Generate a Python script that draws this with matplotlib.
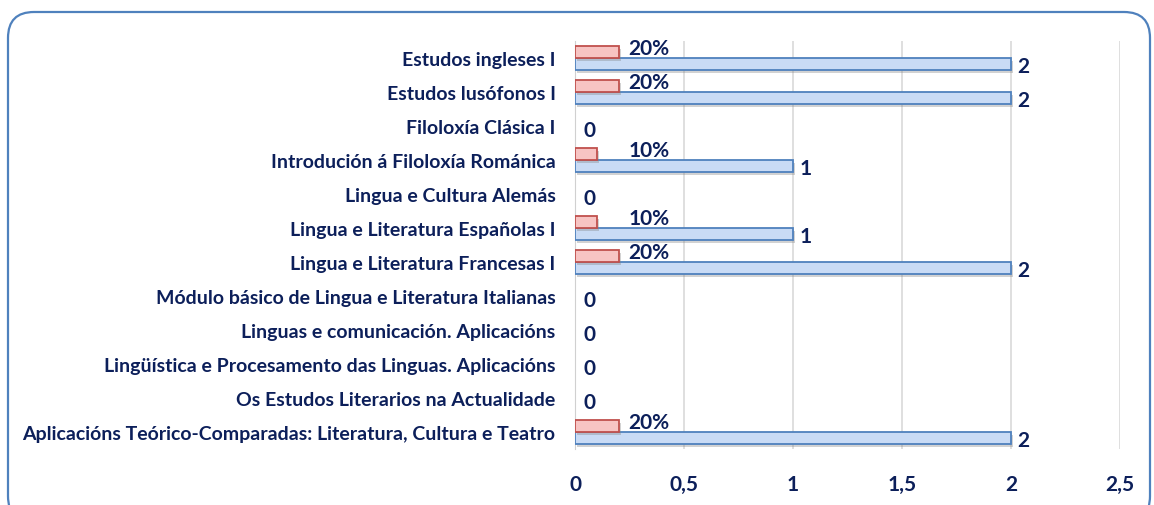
import matplotlib
matplotlib.use("Agg")
import matplotlib.pyplot as plt
import matplotlib.patheffects as pe
from matplotlib.patches import FancyBboxPatch
import numpy as np

# data (top to bottom as in the chart)
cursos = [
    "Estudos ingleses I",
    "Estudos lusófonos I",
    "Filoloxía Clásica I",
    "Introdución á Filoloxía Románica",
    "Lingua e Cultura Alemás",
    "Lingua e Literatura Españolas I",
    "Lingua e Literatura Francesas I",
    "Módulo básico de Lingua e Literatura Italianas",
    "Linguas e comunicación. Aplicacións",
    "Lingüística e Procesamento das Linguas. Aplicacións",
    "Os Estudos Literarios na Actualidade",
    "Aplicacións Teórico-Comparadas: Literatura, Cultura e Teatro",
]
numero = [2, 2, 0, 1, 0, 1, 2, 0, 0, 0, 0, 2]
porcentaxe = [0.2, 0.2, 0, 0.1, 0, 0.1, 0.2, 0, 0, 0, 0, 0.2]
ticks = [0, 0.5, 1, 1.5, 2, 2.5]
tick_labels = ["0", "0,5", "1", "1,5", "2", "2,5"]

navy = "#0c1f5a"
plt.rcParams["font.family"] = ["Lato", "DejaVu Sans"]

W, H = 1154, 506
fig = plt.figure(figsize=(W / 100, H / 100), dpi=100)

# rounded frame round the whole chart
bg = fig.add_axes([0, 0, 1, 1])
bg.set_xlim(0, W)
bg.set_ylim(H, 0)
bg.axis("off")
bg.add_patch(FancyBboxPatch((8, 13), 1142, 510, boxstyle="round,pad=0,rounding_size=26",
                            fc="white", ec="#4f81bd", lw=1.6))

ax = fig.add_axes([575 / W, 1 - 450 / H, (1120 - 575) / W, (450 - 42) / H])
ax.patch.set_alpha(0)

y = np.arange(len(cursos))
h = 0.36
shadow = [pe.SimplePatchShadow(offset=(1.5, -2), alpha=0.35, shadow_rgbFace="#808080"), pe.Normal()]

b1 = ax.barh(y + h / 2, numero, height=h, color="#c9dbf5", edgecolor="#4f81bd", lw=1.3, zorder=3)
b2 = ax.barh(y - h / 2, porcentaxe, height=h, color="#f7c4c3", edgecolor="#c0504d", lw=1.3, zorder=3)
for b in list(b1) + list(b2):
    if b.get_width() > 0:
        b.set_path_effects(shadow)
    else:
        b.set_visible(False)

lab = dict(fontsize=15, fontweight="bold", color=navy, zorder=5)
for i, (n, p) in enumerate(zip(numero, porcentaxe)):
    if n > 0:
        ax.text(n + 0.03, y[i] + h / 2 + 0.05, str(n), ha="left", va="center", **lab)
        ax.text(0.34, y[i] - h / 2 - 0.1, f"{int(round(p * 100))}%", ha="center", va="center", **lab)
    else:
        ax.text(0.04, y[i] + h / 2 - 0.05, "0", ha="left", va="center", **lab)

ax.set_ylim(len(cursos) - 0.5, -0.5)
ax.set_xlim(0, 2.5)
ax.set_xticks(ticks)
ax.set_xticklabels(tick_labels, fontsize=15, fontweight="bold", color=navy)
ax.set_yticks(y)
ax.set_yticklabels(cursos, fontsize=14, fontweight="bold", color=navy)
ax.tick_params(length=0)
ax.tick_params(axis="x", pad=18)
ax.tick_params(axis="y", pad=14)
ax.grid(axis="x", color="#d9d9d9", lw=1.2, zorder=0)
for s in ["top", "right", "bottom"]:
    ax.spines[s].set_visible(False)
ax.spines["left"].set_color("#d0d0d0")

fig.savefig("out.png", dpi=100)
